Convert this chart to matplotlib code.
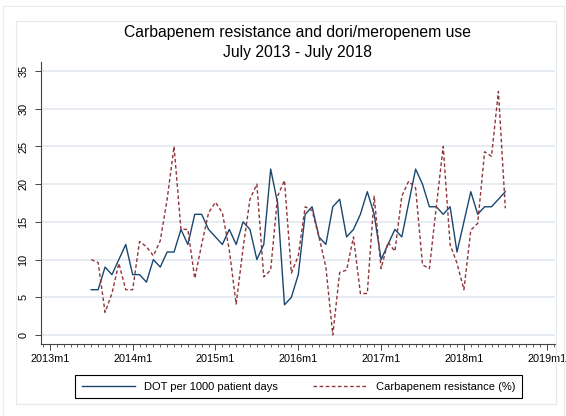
import pandas as pd
import matplotlib.pyplot as plt
from matplotlib.patches import Rectangle
from matplotlib.ticker import MultipleLocator

plt.rcParams['font.family'] = ['Liberation Sans', 'DejaVu Sans']

# Monthly data, July 2013 - July 2018
start_month = "2013-07"
end_month = "2018-07"
dot_per_1000 = [6, 6, 9, 8, 10, 12, 8, 8, 7, 10,
                9, 11, 11, 14, 12, 16, 16, 14, 13, 12,
                14, 12, 15, 14, 10, 12, 22, 17.5, 4, 5,
                8, 16, 17, 13, 12, 17, 18, 13, 14, 16,
                19, 16, 10, 12, 14, 13, 17.5, 22, 20, 17,
                17, 16, 17, 11, 15, 19, 16, 17, 17, 18,
                19]
carb_resistance = [10, 9.6, 3, 5.5, 9.5, 6, 6, 12.4, 11.7, 10.5,
                   12.5, 18, 25, 14, 14, 7.5, 12, 16.2, 17.6, 16.2,
                   11.3, 4.1, 11.5, 18, 20, 7.7, 8.6, 18.4, 20.5, 8.2,
                   10.5, 17, 16.5, 13, 9, 0, 8.3, 8.6, 13, 5.5,
                   5.5, 18.4, 8.8, 12.3, 11.1, 18.4, 20.4, 19.5, 9.3, 8.8,
                   17, 25, 12, 9.5, 6, 13.9, 14.8, 24.3, 23.7, 32.3,
                   16.8]
year_ticks = [2013, 2014, 2015, 2016, 2017, 2018, 2019]
y_ticks = [0, 5, 10, 15, 20, 25, 30, 35]

# Stata style monthly index: months since 2013m1
periods = pd.period_range(start_month, end_month, freq="M")
x = [(p.year - 2013) * 12 + p.month - 1 for p in periods]

W, H = 566, 416
fig = plt.figure(figsize=(W / 100, H / 100), dpi=100)
fig.patch.set_facecolor("white")

# faint Stata graph-region borders
fig.patches.append(Rectangle((3 / W, -0.01), 561 / W, 410 / H + 0.01,
                             transform=fig.transFigure, fill=False,
                             edgecolor="#e6ebee", lw=0.8))
fig.patches.append(Rectangle((16 / W, 12 / H), 540 / W, 383 / H,
                             transform=fig.transFigure, fill=False,
                             edgecolor="#e3e9ed", lw=0.8))

ax = fig.add_axes([41 / W, 72 / H, 514 / W, 282 / H])
ax.set_facecolor("white")

ax.plot(x, dot_per_1000, color="#1a476f", lw=1.0,
        label="DOT per 1000 patient days")
ax.plot(x, carb_resistance, color="#90353b", lw=1.0, dashes=(2.6, 1.8),
        label="Carbapenem resistance (%)")

ax.set_xlim(-1.28, 73.2)
ax.set_ylim(-1.2, 36.2)

ax.set_yticks(y_ticks)
ax.set_yticklabels([str(v) for v in y_ticks])
ax.set_xticks([(y - 2013) * 12 for y in year_ticks])
ax.set_xticklabels([f"{y}m1" for y in year_ticks])
ax.xaxis.set_minor_locator(MultipleLocator(1))

ax.grid(axis="y", color="#e4ebf0", lw=1.3)
ax.set_axisbelow(True)

for side in ["top", "right"]:
    ax.spines[side].set_visible(False)
for side in ["left", "bottom"]:
    ax.spines[side].set_color("#444444")
    ax.spines[side].set_linewidth(0.8)

ax.tick_params(axis="both", which="major", length=4, width=0.7,
               color="#444444", labelsize=7.8, labelcolor="black")
ax.tick_params(axis="x", which="minor", length=2.2, width=0.6, color="#444444")
ax.tick_params(axis="x", which="major", pad=3)
ax.tick_params(axis="y", which="major", pad=5)
plt.setp(ax.get_yticklabels(), rotation=90, va="center")

fig.text(0.526, 1 - 32 / H, "Carbapenem resistance and dori/meropenem use",
         ha="center", va="center", fontsize=11.3)
fig.text(0.526, 1 - 52 / H, "July 2013 - July 2018",
         ha="center", va="center", fontsize=11.3)

leg = ax.legend(loc="center", bbox_to_anchor=(298.5 / W, 1 - 386.5 / H),
                bbox_transform=fig.transFigure, ncol=2, fontsize=8,
                frameon=True, fancybox=False, framealpha=1,
                edgecolor="black", handlelength=4.8, handletextpad=0.8,
                columnspacing=3.2, borderpad=0.6)
leg.get_frame().set_linewidth(0.8)

plt.savefig("out.png", dpi=100)
